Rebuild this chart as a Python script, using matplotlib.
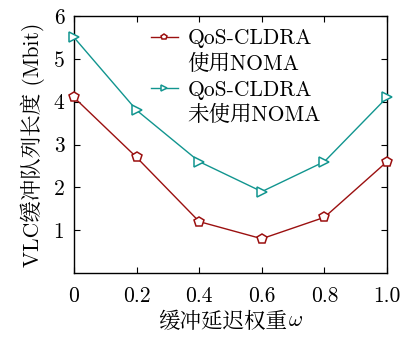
import matplotlib
matplotlib.use("Agg")
import matplotlib.pyplot as plt
from matplotlib.lines import Line2D

plt.rcParams['font.family'] = ['cmr10', 'Noto Serif CJK SC', 'Noto Sans CJK SC', 'DejaVu Serif']
plt.rcParams['mathtext.fontset'] = 'cm'
plt.rcParams['axes.unicode_minus'] = False

omega = [0, 0.2, 0.4, 0.6, 0.8, 1.0]
with_noma = [4.1, 2.7, 1.2, 0.8, 1.3, 2.6]
without_noma = [5.5, 3.8, 2.6, 1.9, 2.6, 4.1]
xtick_labels = ['0', '0.2', '0.4', '0.6', '0.8', '1.0']
yticks = [1, 2, 3, 4, 5, 6]
series_names = ['QoS-CLDRA', 'QoS-CLDRA']
series_sub = ['使用NOMA', '未使用NOMA']

RED = '#9b1010'
TEAL = '#11958f'

fig = plt.figure(figsize=(4.03, 3.4), dpi=100)
ax = fig.add_axes([74/403, 1-273/340, (387-74)/403, (273-16)/340])

l1, = ax.plot(omega, with_noma, color=RED, lw=1.0, marker='p', ms=7,
              mfc='white', mec=RED, mew=1.1, clip_on=False, zorder=3)
l2, = ax.plot(omega, without_noma, color=TEAL, lw=1.0, marker='>', ms=7,
              mfc='white', mec=TEAL, mew=1.1, clip_on=False, zorder=3)

ax.set_xlim(0, 1.0)
ax.set_ylim(0, 6)
ax.set_xticks(omega)
ax.set_xticklabels(xtick_labels)
ax.set_yticks(yticks)
ax.set_yticklabels([str(v) for v in yticks])
ax.tick_params(direction='in', top=True, right=True, labelsize=15.5, length=4)
ax.tick_params(axis='x', pad=10)
ax.tick_params(axis='y', pad=7)
for s in ax.spines.values():
    s.set_linewidth(1.0)

xl = ax.set_xlabel('缓冲延迟权重', fontsize=15.5, labelpad=4)
ax.set_ylabel('VLC缓冲队列长度 (Mbit)', fontsize=15.5, labelpad=6)

blank = Line2D([], [], linestyle='none')
handles = [l1, blank, l2, blank]
labels = [series_names[0], series_sub[0], series_names[1], series_sub[1]]
leg = ax.legend(handles, labels, loc='upper left', bbox_to_anchor=(0.245, 0.95), frameon=False,
                fontsize=15.5, handlelength=1.25, handletextpad=0.45, labelspacing=0.27,
                borderaxespad=0.0, borderpad=0.0, markerscale=0.6)

fig.canvas.draw()
xl.set_x(xl.get_position()[0] - 0.025)
fig.canvas.draw()
bb = xl.get_window_extent()
fig.text(bb.x1 / fig.bbox.width + 0.002, (bb.y0 + 2) / fig.bbox.height, '$\\omega$',
         fontsize=15.5, ha='left', va='bottom')

fig.savefig('out.png', dpi=100)
